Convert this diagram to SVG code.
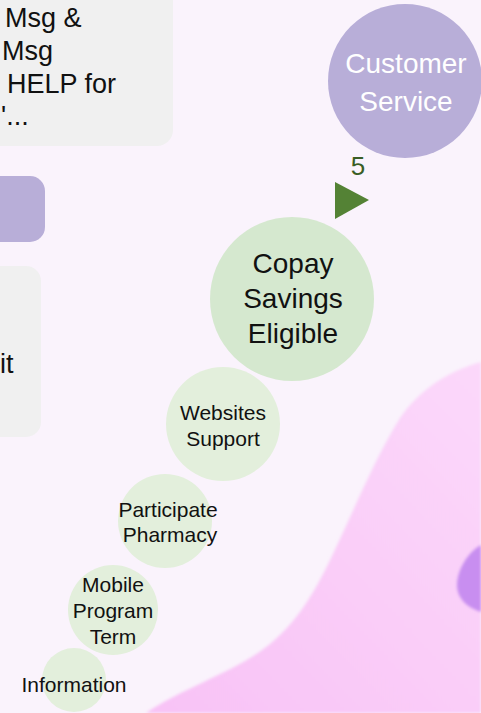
<svg xmlns="http://www.w3.org/2000/svg" width="481" height="713" viewBox="0 0 481 713">
<defs>
<style>
.t{font-family:"Liberation Sans",Arial,sans-serif;fill:#111;text-anchor:middle}
.box{fill:#f0f0f0}
.big{font-size:27px}
.med{font-size:28px}
.sm{font-size:21px}
.lg{fill:#e3efdc}
.dg{fill:#d5e8cf}
</style>
<linearGradient id="pk" x1="1" y1="0" x2="0" y2="1">
<stop offset="0" stop-color="#fbd8fa"/>
<stop offset="1" stop-color="#f8c2f6"/>
</linearGradient>
<filter id="bl" x="-20%" y="-20%" width="140%" height="140%"><feGaussianBlur stdDeviation="1.5"/></filter>
</defs>
<rect width="481" height="713" fill="#faf3fc"/>
<g id="background">
<path d="M481,362 C445,372 418,392 400,418 C375,458 355,508 332,556 C312,598 292,630 258,653 C225,675 180,690 146,713 L481,713 Z" fill="url(#pk)" filter="url(#bl)"/>
<path d="M481,545 C468,552 457,570 457,585 C457,600 469,608 481,612 Z" fill="#c88ef0" filter="url(#bl)"/>
</g>
<g id="node-reply">
<rect x="-20" y="-20" width="193" height="166" rx="16" class="box"/>
<text class="t big" style="text-anchor:start" x="5" y="27">Msg &amp;</text>
<text class="t big" style="text-anchor:start" x="2" y="60">Msg</text>
<text class="t big" style="text-anchor:start" x="7" y="93">HELP for</text>
<text class="t big" style="text-anchor:start" x="1" y="125">'...</text>
</g>
<g id="node-purple">
<rect x="-20" y="176" width="65" height="66" rx="15" fill="#b8aed8"/>
</g>
<g id="node-info">
<rect x="-20" y="266" width="61" height="171" rx="15" class="box"/>
<text class="t big" style="text-anchor:start" x="0" y="373">it</text>
</g>
<g id="node-customer">
<circle cx="405" cy="81" r="77" fill="#b8aed8"/>
<text class="t med" x="406" y="73" style="fill:#fff">Customer</text>
<text class="t med" x="406" y="111" style="fill:#fff">Service</text>
</g>
<g id="connectors">
<text x="358" y="175" style="font-family:'Liberation Sans',Arial,sans-serif;font-size:26px;fill:#3a5e25;text-anchor:middle">5</text>
<path d="M335,182 L369,200 L335,219 Z" fill="#548235"/>
</g>
<g id="node-copay">
<circle cx="292" cy="299" r="82" class="dg"/>
<text class="t med" x="293" y="273">Copay</text>
<text class="t med" x="293" y="308">Savings</text>
<text class="t med" x="293" y="343">Eligible</text>
</g>
<g id="node-websites">
<circle cx="223" cy="424" r="57" class="lg"/>
<text class="t sm" x="223" y="420">Websites</text>
<text class="t sm" x="223" y="446">Support</text>
</g>
<g id="node-pharmacy">
<circle cx="165" cy="521" r="47" class="lg"/>
<text class="t sm" x="168" y="517">Participate</text>
<text class="t sm" x="170" y="542">Pharmacy</text>
</g>
<g id="node-mobile">
<circle cx="113" cy="610" r="45" class="lg"/>
<text class="t sm" x="113" y="592">Mobile</text>
<text class="t sm" x="113" y="618">Program</text>
<text class="t sm" x="113" y="644">Term</text>
</g>
<g id="node-information">
<circle cx="74" cy="680" r="32" class="lg"/>
<text class="t sm" x="74" y="692">Information</text>
</g>
</svg>
